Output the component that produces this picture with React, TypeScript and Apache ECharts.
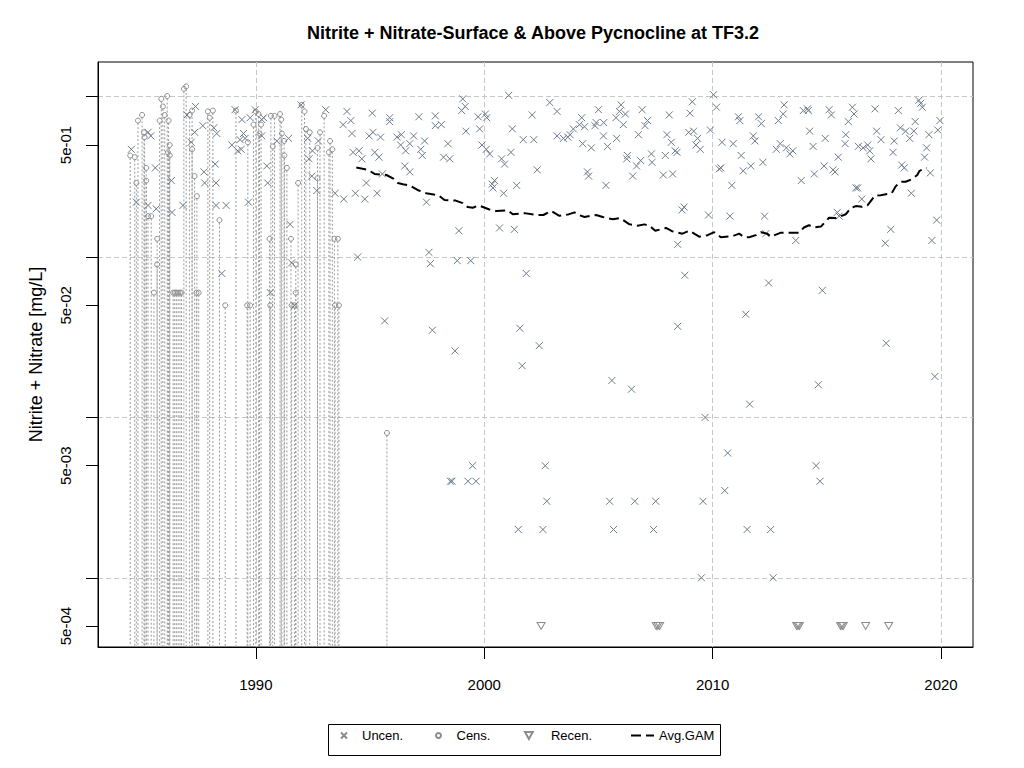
import * as echarts from "echarts";
import { useEffect, useRef } from "react";

const FONT = "'Liberation Sans', Arial, sans-serif";

const X_MIN = 1983.09;
const X_MAX = 2021.4;
const Y_MIN = 3.7e-4;
const Y_MAX = 1.647;

const X_TICKS = [1990, 2000, 2010, 2020];
const Y_GRID = [0.001, 0.01, 0.1, 1];
const Y_LABELS = [0.0005, 0.005, 0.05, 0.5];

// uncensored observations [decimal year, mg/L]
const UNCEN: [number, number][] = [
  [1984.55, 0.47], [1985.28, 0.6], [1985.4, 0.57], [1985.6, 0.36], [1984.77, 0.22], [1985.28, 0.21],
  [1985.64, 0.2], [1986.3, 0.3], [1986.33, 0.19], [1986.81, 0.21], [1986.99, 0.77], [1987.17, 0.52],
  [1987.32, 0.6], [1987.36, 0.87], [1987.68, 0.66], [1987.73, 0.34], [1987.76, 0.29], [1988.16, 0.64],
  [1988.22, 0.38], [1988.26, 0.29], [1988.26, 0.21], [1988.29, 0.59], [1988.51, 0.079], [1988.7, 0.21],
  [1988.95, 0.5], [1989.09, 0.83], [1989.21, 0.46], [1989.31, 0.54], [1989.36, 0.47], [1989.39, 0.72],
  [1989.46, 0.59], [1989.53, 0.55], [1989.68, 0.22], [1989.75, 0.74], [1989.97, 0.83], [1990.26, 0.72],
  [1990.26, 0.57], [1990.34, 0.74], [1990.48, 0.37], [1990.52, 0.29], [1990.63, 0.06], [1990.92, 0.53],
  [1991.43, 0.55], [1991.5, 0.16], [1991.57, 0.092], [1991.7, 0.05], [1991.98, 0.89], [1992.27, 0.55],
  [1992.33, 0.41], [1992.45, 0.32], [1992.48, 0.46], [1992.67, 0.26], [1992.74, 0.53], [1993.06, 0.83],
  [1993.47, 0.25], [1993.82, 0.67], [1993.85, 0.23], [1993.99, 0.81], [1994.16, 0.71], [1994.21, 0.59],
  [1994.26, 0.45], [1994.36, 0.25], [1994.46, 0.1], [1994.52, 0.46], [1994.64, 0.41], [1994.77, 0.23],
  [1994.84, 0.29], [1994.96, 0.57], [1995.1, 0.79], [1995.13, 0.6], [1995.21, 0.45], [1995.31, 0.25],
  [1995.39, 0.42], [1995.46, 0.56], [1995.54, 0.33], [1995.64, 0.04], [1995.86, 0.74], [1995.86, 0.7],
  [1996.18, 0.56], [1996.34, 0.5], [1996.37, 0.58], [1996.52, 0.37], [1996.56, 0.46], [1996.74, 0.51],
  [1996.74, 0.34], [1996.91, 0.57], [1997.14, 0.75], [1997.22, 0.47], [1997.29, 0.43], [1997.39, 0.53],
  [1997.47, 0.22], [1997.58, 0.107], [1997.64, 0.091], [1997.73, 0.035], [1997.86, 0.76], [1997.86, 0.66],
  [1998.12, 0.67], [1998.22, 0.42], [1998.41, 0.51], [1998.49, 0.41], [1998.52, 0.004], [1998.59, 0.004],
  [1998.72, 0.026], [1998.82, 0.095], [1998.89, 0.146], [1999.01, 0.82], [1999.06, 0.97], [1999.17, 0.87],
  [1999.2, 0.61], [1999.29, 0.004], [1999.41, 0.095], [1999.49, 0.005], [1999.64, 0.004], [1999.73, 0.75],
  [1999.8, 0.63], [1999.9, 0.5], [2000.05, 0.78], [2000.09, 0.47], [2000.11, 0.74], [2000.24, 0.44],
  [2000.35, 0.285], [2000.38, 0.27], [2000.45, 0.3], [2000.67, 0.152], [2000.76, 0.41], [2000.85, 0.25],
  [2000.89, 0.38], [2001.07, 1.02], [2001.17, 0.45], [2001.23, 0.63], [2001.32, 0.149], [2001.42, 0.28],
  [2001.49, 0.002], [2001.56, 0.036], [2001.66, 0.021], [2001.71, 0.54], [2001.84, 0.079], [2002.1, 0.77],
  [2002.17, 0.54], [2002.32, 0.35], [2002.41, 0.028], [2002.57, 0.002], [2002.67, 0.005], [2002.74, 0.003],
  [2002.87, 0.92], [2003.19, 0.81], [2003.19, 0.57], [2003.47, 0.55], [2003.66, 0.56], [2003.76, 0.58],
  [2003.9, 0.63], [2004.17, 0.67], [2004.27, 0.74], [2004.31, 0.51], [2004.39, 0.65], [2004.52, 0.34],
  [2004.57, 0.32], [2004.69, 0.48], [2004.85, 0.66], [2004.9, 0.69], [2005.0, 0.83], [2005.22, 0.57],
  [2005.23, 0.69], [2005.33, 0.28], [2005.4, 0.49], [2005.49, 0.003], [2005.59, 0.017], [2005.66, 0.002],
  [2005.77, 0.74], [2005.8, 0.55], [2005.92, 0.81], [2005.99, 0.89], [2006.09, 0.67], [2006.18, 0.78],
  [2006.24, 0.41], [2006.27, 0.43], [2006.45, 0.015], [2006.5, 0.32], [2006.59, 0.003], [2006.67, 0.37],
  [2006.75, 0.58], [2006.85, 0.4], [2006.91, 0.83], [2007.04, 0.66], [2007.15, 0.71], [2007.32, 0.44],
  [2007.35, 0.39], [2007.41, 0.002], [2007.51, 0.003], [2007.84, 0.325], [2007.93, 0.43], [2008.0, 0.58],
  [2008.1, 0.77], [2008.19, 0.52], [2008.25, 0.33], [2008.36, 0.46], [2008.44, 0.45], [2008.47, 0.12],
  [2008.47, 0.037], [2008.66, 0.197], [2008.75, 0.205], [2008.78, 0.077], [2008.95, 0.6], [2009.01, 0.79],
  [2009.11, 0.93], [2009.17, 0.61], [2009.27, 0.5], [2009.34, 0.55], [2009.46, 0.47], [2009.51, 0.001],
  [2009.58, 0.003], [2009.67, 0.01], [2009.82, 0.183], [2009.9, 0.62], [2010.04, 1.03], [2010.17, 0.86],
  [2010.29, 0.355], [2010.36, 0.36], [2010.41, 0.52], [2010.53, 0.0035], [2010.66, 0.006], [2010.76, 0.18],
  [2010.84, 0.28], [2010.9, 0.51], [2011.13, 0.75], [2011.19, 0.71], [2011.25, 0.43], [2011.34, 0.345],
  [2011.45, 0.044], [2011.51, 0.002], [2011.62, 0.0121], [2011.67, 0.37], [2011.78, 0.57], [2011.85, 0.53],
  [2012.01, 0.75], [2012.13, 0.68], [2012.2, 0.39], [2012.27, 0.18], [2012.33, 0.14], [2012.45, 0.069],
  [2012.54, 0.002], [2012.65, 0.001], [2012.79, 0.47], [2012.88, 0.71], [2012.96, 0.51], [2013.09, 0.78],
  [2013.13, 0.89], [2013.23, 0.48], [2013.38, 0.44], [2013.51, 0.46], [2013.64, 0.127], [2013.88, 0.3],
  [2013.97, 0.82], [2014.15, 0.84], [2014.19, 0.82], [2014.25, 0.61], [2014.4, 0.49], [2014.45, 0.33],
  [2014.53, 0.005], [2014.63, 0.016], [2014.7, 0.004], [2014.8, 0.062], [2014.88, 0.37], [2014.93, 0.55],
  [2015.1, 0.83], [2015.2, 0.77], [2015.27, 0.35], [2015.36, 0.34], [2015.46, 0.19], [2015.5, 0.42],
  [2015.54, 0.18], [2015.8, 0.51], [2015.83, 0.58], [2015.94, 0.7], [2016.12, 0.86], [2016.19, 0.78],
  [2016.27, 0.27], [2016.35, 0.27], [2016.38, 0.49], [2016.53, 0.23], [2016.59, 0.48], [2016.79, 0.5],
  [2016.88, 0.46], [2016.93, 0.41], [2017.11, 0.84], [2017.18, 0.61], [2017.37, 0.54], [2017.56, 0.122],
  [2017.6, 0.029], [2017.8, 0.149], [2017.9, 0.45], [2017.95, 0.53], [2018.13, 0.82], [2018.22, 0.64],
  [2018.28, 0.375], [2018.39, 0.36], [2018.45, 0.61], [2018.63, 0.55], [2018.7, 0.25], [2018.81, 0.61],
  [2018.87, 0.7], [2019.03, 0.95], [2019.11, 0.91], [2019.18, 0.86], [2019.28, 0.42], [2019.37, 0.48],
  [2019.47, 0.58], [2019.53, 0.335], [2019.6, 0.127], [2019.73, 0.018], [2019.81, 0.17], [2019.86, 0.62],
  [2019.95, 0.71],
];

// censored observations (upper bound), drawn with a dotted range down to zero
const CENS: [number, number][] = [
  [1984.5, 0.43], [1984.7, 0.42], [1984.77, 0.29], [1984.84, 0.71], [1985.02, 0.77], [1985.1, 0.6],
  [1985.13, 0.56], [1985.2, 0.36], [1985.2, 0.3], [1985.28, 0.18], [1985.42, 0.18], [1985.54, 0.06],
  [1985.68, 0.13], [1985.68, 0.09], [1985.79, 0.71], [1985.86, 0.97], [1985.93, 0.87], [1986.01, 0.77],
  [1986.12, 1.01], [1986.15, 0.45], [1986.18, 0.71], [1986.23, 0.5], [1986.23, 0.43], [1986.38, 0.06],
  [1986.45, 0.06], [1986.52, 0.06], [1986.6, 0.06], [1986.68, 0.06], [1986.75, 0.06], [1986.85, 1.12],
  [1986.95, 1.16], [1987.1, 0.77], [1987.21, 0.82], [1987.21, 0.47], [1987.32, 0.32], [1987.4, 0.06],
  [1987.42, 0.24], [1987.5, 0.06], [1987.9, 0.81], [1987.98, 0.74], [1988.12, 0.82], [1988.41, 0.17],
  [1988.66, 0.05], [1989.13, 0.82], [1989.62, 0.05], [1989.65, 0.52], [1989.75, 0.05], [1989.9, 0.67],
  [1990.0, 0.81], [1990.12, 0.78], [1990.16, 0.59], [1990.23, 0.67], [1990.6, 0.13], [1990.63, 0.05],
  [1990.66, 0.76], [1990.74, 0.49], [1990.82, 0.76], [1991.06, 0.78], [1991.11, 0.72], [1991.14, 0.59],
  [1991.24, 0.53], [1991.25, 0.43], [1991.36, 0.36], [1991.54, 0.13], [1991.57, 0.05], [1991.69, 0.05],
  [1991.75, 0.09], [1991.75, 0.06], [1991.85, 0.29], [1992.01, 0.89], [1992.13, 0.81], [1992.19, 0.63],
  [1992.36, 0.6], [1992.7, 0.48], [1992.7, 0.31], [1992.81, 0.6], [1992.99, 0.76], [1993.2, 0.45],
  [1993.25, 0.53], [1993.35, 0.47], [1993.44, 0.13], [1993.47, 0.05], [1993.59, 0.13], [1993.64, 0.05],
  [1995.74, 0.008],
];

const RECEN: [number, number][] = [
  [2002.49, 0.0005], [2007.53, 0.0005], [2007.6, 0.0005], [2007.68, 0.0005], [2013.68, 0.0005],
  [2013.74, 0.0005], [2013.8, 0.0005], [2015.6, 0.0005], [2015.66, 0.0005], [2015.72, 0.0005],
  [2016.7, 0.0005], [2017.71, 0.0005],
];

const GAM: [number, number][] = [
  [1994.4, 0.362], [1994.91, 0.35], [1995.2, 0.33], [1995.72, 0.325], [1996.0, 0.31], [1996.22, 0.29],
  [1996.44, 0.285], [1996.73, 0.28], [1997.14, 0.26], [1997.46, 0.25], [1998.0, 0.243], [1998.26, 0.227],
  [1998.75, 0.225], [1999.06, 0.217], [1999.28, 0.205], [1999.5, 0.203], [1999.76, 0.21], [2000.23, 0.198],
  [2000.52, 0.194], [2001.03, 0.196], [2001.25, 0.185], [2001.76, 0.188], [2002.27, 0.183], [2002.59, 0.183],
  [2002.93, 0.194], [2003.29, 0.181], [2003.66, 0.184], [2003.95, 0.19], [2004.14, 0.183], [2004.39, 0.178],
  [2004.9, 0.183], [2005.19, 0.178], [2005.63, 0.172], [2005.95, 0.175], [2006.36, 0.16], [2006.72, 0.157],
  [2007.01, 0.16], [2007.23, 0.157], [2007.49, 0.146], [2007.96, 0.152], [2008.22, 0.145], [2008.68, 0.14],
  [2008.98, 0.146], [2009.41, 0.134], [2009.78, 0.137], [2010.07, 0.143], [2010.36, 0.133], [2010.87, 0.135],
  [2011.16, 0.14], [2011.38, 0.133], [2011.6, 0.133], [2011.89, 0.137], [2012.11, 0.143], [2012.4, 0.14],
  [2012.55, 0.134], [2012.99, 0.142], [2013.79, 0.142], [2014.0, 0.153], [2014.22, 0.158], [2014.44, 0.153],
  [2014.74, 0.155], [2015.1, 0.176], [2015.39, 0.175], [2015.83, 0.185], [2016.05, 0.202], [2016.27, 0.208],
  [2016.53, 0.206], [2016.78, 0.21], [2017.11, 0.242], [2017.36, 0.243], [2017.84, 0.25], [2018.01, 0.276],
  [2018.23, 0.295], [2018.45, 0.295], [2018.71, 0.305], [2018.96, 0.325], [2019.06, 0.345], [2019.37, 0.36],
];

const CROSS = "path://M0,0L10,10M10,0L0,10";
const TRIANGLE_DOWN = "path://M0,0L10,0L5,9Z";

const fmtExp = (v: number) => {
  const [m, e] = v.toExponential(0).split("e");
  const n = parseInt(e, 10);
  return `${m}e${n < 0 ? "-" : "+"}${String(Math.abs(n)).padStart(2, "0")}`;
};

const gridLine = { show: true, lineStyle: { color: "#c8c8c8", width: 1, type: [5, 3] } };

export default function App() {
  const chartRef = useRef<HTMLDivElement | null>(null);

  useEffect(() => {
    if (!chartRef.current) return;
    const chart = echarts.init(chartRef.current, null, { renderer: "svg" });

    const legendText = { fontSize: 13, fontFamily: FONT, color: "#000" };

    chart.setOption({
      animation: false,
      backgroundColor: "#fff",
      textStyle: { fontFamily: FONT },
      title: {
        text: "Nitrite + Nitrate-Surface & Above Pycnocline at TF3.2",
        left: 307,
        top: 24,
        padding: 0,
        textStyle: { fontSize: 18, fontWeight: "bold", fontFamily: FONT, color: "#000" },
      },
      grid: {
        left: 98, top: 62, width: 875, height: 585,
        show: true, borderColor: "#000", borderWidth: 1, backgroundColor: "transparent",
      },
      xAxis: {
        type: "value",
        min: X_MIN,
        max: X_MAX,
        axisLine: { show: true, lineStyle: { color: "#000", width: 1 } },
        axisTick: { show: true, customValues: X_TICKS, length: 12, lineStyle: { color: "#000" } },
        axisLabel: {
          customValues: X_TICKS,
          margin: 30,
          fontSize: 15,
          color: "#000",
          fontFamily: FONT,
          formatter: (v: number) => String(Math.round(v)),
        },
        splitLine: gridLine,
      },
      yAxis: [
        {
          type: "log",
          logBase: 10,
          min: Y_MIN,
          max: Y_MAX,
          position: "left",
          name: "Nitrite + Nitrate [mg/L]",
          nameLocation: "middle",
          nameGap: 53,
          nameTextStyle: { fontSize: 18, color: "#000", fontFamily: FONT },
          axisLine: { show: true, lineStyle: { color: "#000", width: 1 } },
          axisTick: { show: true, customValues: Y_GRID, length: 12, lineStyle: { color: "#000" } },
          axisLabel: { show: false },
          splitLine: gridLine,
        },
        {
          type: "log",
          logBase: 10,
          min: Y_MIN,
          max: Y_MAX,
          position: "left",
          axisLine: { show: false },
          axisTick: { show: true, customValues: Y_LABELS, length: 12, lineStyle: { color: "#000" } },
          axisLabel: {
            customValues: Y_LABELS,
            rotate: 90,
            margin: 25,
            fontSize: 15,
            color: "#000",
            fontFamily: FONT,
            formatter: (v: number) => fmtExp(v),
          },
          splitLine: { show: false },
        },
      ],
      legend: [
        {
          data: [{ name: "Uncen.", itemStyle: { borderColor: "#8c8c8c" } }],
          left: 340, top: 729, padding: 0, itemWidth: 26, itemHeight: 6,
          selectedMode: false, textStyle: legendText,
        },
        {
          data: [{ name: "Cens.", icon: "emptyCircle" }], left: 435, top: 729, padding: 0, itemWidth: 26, itemHeight: 5,
          selectedMode: false, textStyle: legendText,
        },
        {
          data: ["Recen."], left: 524, top: 729, padding: 0, itemWidth: 34, itemHeight: 7,
          selectedMode: false, textStyle: legendText,
        },
        {
          data: [{ name: "Avg.GAM", itemStyle: { opacity: 0 } }],
          left: 630, top: 729, padding: 0, itemWidth: 23, itemHeight: 7,
          selectedMode: false, textStyle: legendText,
        },
      ],
      graphic: [
        {
          type: "rect",
          silent: true,
          shape: { x: 328.5, y: 724.5, width: 392, height: 31 },
          style: { fill: "none", stroke: "#000", lineWidth: 1 },
        },
      ],
      series: [
        {
          name: "Cens.",
          type: "custom",
          clip: true,
          itemStyle: { color: "#8c8c8c" },
          data: CENS,
          encode: { x: 0, y: 1 },
          renderItem: (_params: any, api: any) => {
            const top = api.coord([api.value(0), api.value(1)]);
            const bottom = api.coord([api.value(0), Y_MIN]);
            return {
              type: "group",
              children: [
                {
                  type: "line",
                  shape: { x1: top[0], y1: top[1] + 2.5, x2: top[0], y2: bottom[1] },
                  style: { stroke: "#9a9a9a", lineWidth: 1, lineDash: [2, 2] },
                },
                {
                  type: "circle",
                  shape: { cx: top[0], cy: top[1], r: 2.5 },
                  style: { fill: "none", stroke: "#8c8c8c", lineWidth: 1 },
                },
              ],
            };
          },
        },
        {
          name: "Uncen.",
          type: "scatter",
          symbol: CROSS,
          symbolSize: 7,
          data: UNCEN,
          itemStyle: { color: "transparent", borderColor: "#6C7B8B", borderWidth: 1, opacity: 1 },
        },
        {
          name: "Recen.",
          type: "scatter",
          symbol: TRIANGLE_DOWN,
          symbolSize: [8, 7],
          data: RECEN,
          itemStyle: { color: "transparent", borderColor: "#8c8c8c", borderWidth: 1, opacity: 1 },
        },
        {
          name: "Avg.GAM",
          type: "line",
          symbol: "none",
          showSymbol: false,
          data: GAM,
          lineStyle: { color: "#000", width: 2, type: [10, 5] },
          itemStyle: { color: "#000" },
        },
      ],
    });

    return () => {
      chart.dispose();
    };
  }, []);

  return (
    <div
      ref={chartRef}
      style={{ position: "fixed", left: 0, top: 0, width: 1024, height: 768, background: "#fff" }}
    />
  );
}
